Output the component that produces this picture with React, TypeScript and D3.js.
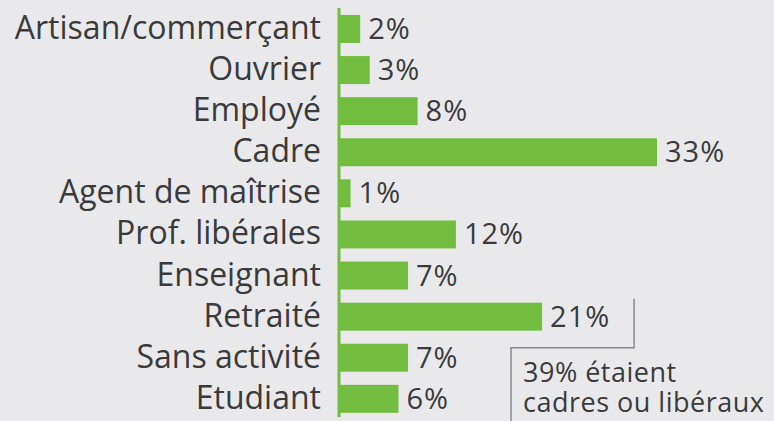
import React from 'react';
import { scaleBand, scaleLinear, max } from 'd3';

const categories = [
  'Artisan/commerçant',
  'Ouvrier',
  'Employé',
  'Cadre',
  'Agent de maîtrise',
  'Prof. libérales',
  'Enseignant',
  'Retraité',
  'Sans activité',
  'Etudiant',
];
const values = [2, 3, 8, 33, 1, 12, 7, 21, 7, 6];
const noteLines = ['39% étaient', 'cadres ou libéraux'];

const W = 774;
const H = 421;
const green = '#72bd3f';
const ink = '#3a3a3c';

function App() {
  const y = scaleBand<string>().domain(categories).range([8.4, 419.4]).paddingInner(0.32).paddingOuter(0.16);
  const x = scaleLinear().domain([0, max(values) as number]).range([341, 657]);

  // bracket from the Retraité bar down to the note
  const bx = x(21) + 92;
  const by = (y('Sans activité') as number) + 4;
  const bTop = (y('Retraité') as number) - 4;
  const nx = 511;

  return (
    <svg width={W} height={H} style={{ position: 'absolute', left: 0, top: 0 }} fontFamily="Open Sans">
      <rect width={W} height={H} fill="#e9e9eb" />
      <line x1={339} x2={339} y1={8} y2={417} stroke={green} strokeWidth={3} />
      {categories.map((c, i) => (
        <g key={c}>
          <rect x={x(0) - 1} y={y(c)} width={x(values[i]) - x(0) + 1} height={y.bandwidth()} fill={green} />
          <text x={321} y={(y(c) as number) + y.bandwidth() / 2 + 10} textAnchor="end" fontSize={32} fill={ink}>
            {c}
          </text>
          <text x={x(values[i]) + 8} y={(y(c) as number) + y.bandwidth() / 2 + 10} fontSize={29} letterSpacing={1} fill={ink}>
            {values[i]}%
          </text>
        </g>
      ))}
      <path d={`M${bx},${bTop}V${by}H${nx}V${H}`} fill="none" stroke="#8a8a8c" strokeWidth={1.5} />
      {noteLines.map((t, i) => (
        <text key={t} x={523} y={382 + i * 30} fontSize={27} letterSpacing={0.5} fill={ink}>
          {t}
        </text>
      ))}
    </svg>
  );
}

export default App;
